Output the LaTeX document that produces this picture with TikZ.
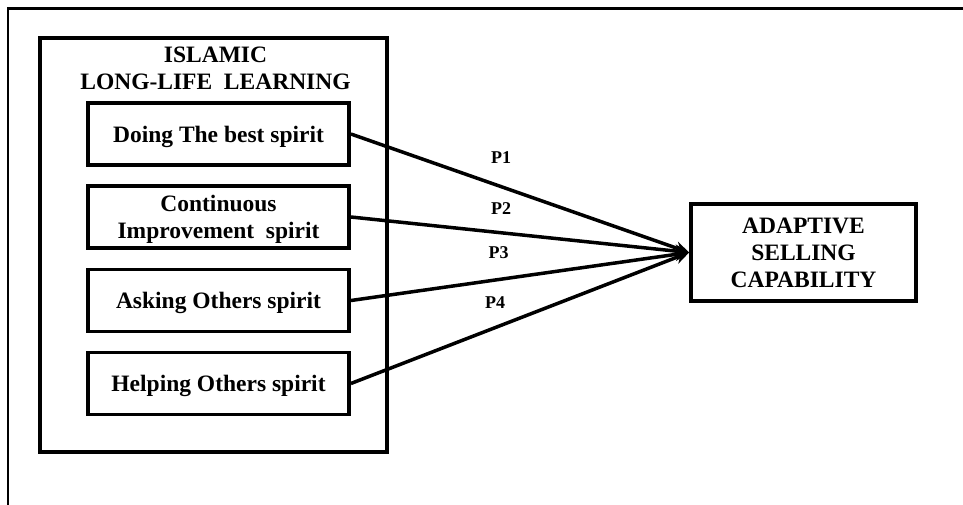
\documentclass[tikz,border=0pt]{standalone}
\usepackage{fontspec}
\setmainfont{Liberation Serif}
\usetikzlibrary{calc,arrows.meta}

\begin{document}
\begin{tikzpicture}[>={Stealth[length=14pt,width=13pt]},x=1pt,y=-1pt,
    txt/.style={font=\bfseries\fontsize{23.5}{27}\selectfont,align=center,inner sep=0pt},
    spiritbox/.style={txt,draw,line width=3.8pt,minimum width=261pt,minimum height=62pt,text depth=0pt},
    plab/.style={font=\bfseries\fontsize{18}{20}\selectfont,inner sep=0pt}]
    \pgfmathsetmacro{\bx}{218.5}
    \useasboundingbox (0,0) rectangle (963,505);
    % frame, top and left only
    \coordinate (fr) at (963,8.5);
    \coordinate (ftl) at (8,8.5);
    \coordinate (fb) at (8,505);
    \draw[line width=2.6pt](fr)--(ftl)--(fb);
    % outer group
    \node[draw,line width=4pt,minimum width=347pt,minimum height=414pt] (llm) at (213.5,245) {};
    \node[txt] (ttl) at (215.5,68.5) {ISLAMIC\\LONG-LIFE\ \ LEARNING};
    \foreach \n/\y/\tex in {
        1/134/{Doing The best spirit},
        2/217/{Continuous\\Improvement\ \ spirit},
        3/300.5/{Asking Others spirit},
        4/383.5/{Helping Others spirit}}
        \node[spiritbox] (s\n) at (\bx,\y) {\tex};
    \node[txt,draw,line width=3.8pt,minimum width=225pt,minimum height=97pt] (asc) at (803.5,252.5) {ADAPTIVE\\SELLING\\CAPABILITY};
    \foreach \n/\lx/\ly in {1/501/157.5,2/501/209,3/498.5/253,4/495/303}{
        \draw[->,line width=3.5pt](s\n.east)--(asc.west);
        \node[plab] (p\n) at (\lx,\ly) {P\n};}
\end{tikzpicture}
\end{document}
